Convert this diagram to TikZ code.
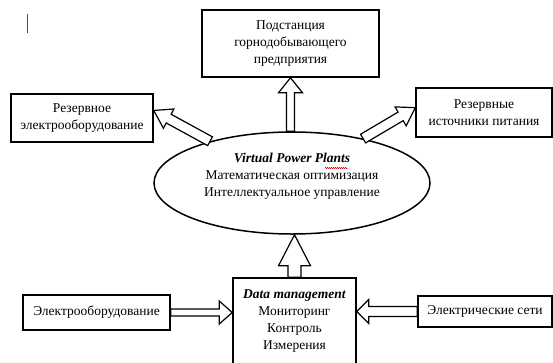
\documentclass[tikz,border=0pt]{standalone}
\usepackage{fontspec}
\setmainfont{Liberation Serif}
\usetikzlibrary{calc, shapes.geometric, decorations.pathmorphing}

% hollow block arrow: from, to, shaft half width, head half width, head length
\newcommand{\blockarrow}[5]{%
  \coordinate (ba-h) at ($(#2)!#5!(#1)$);
  \draw[blockline] ($(#1)!#3!90:(#2)$) -- ($(ba-h)!#3!90:(#2)$) -- ($(ba-h)!#4!90:(#2)$)
    -- (#2) -- ($(ba-h)!#4!-90:(#2)$) -- ($(ba-h)!#3!-90:(#2)$) -- ($(#1)!#3!-90:(#2)$) -- cycle;
}

\begin{document}
\begin{tikzpicture}[
            x = 1pt, y = -1pt, % pixel-like units, y downwards
            blockline/.style = {draw = black, line width = 1.2pt, fill = white, line join = miter},
            line width = 1.5pt
        ]

        \tikzstyle{box}=[
            draw = black,
            line width = 1.5pt,
            fill = white,
            align = center,
            inner sep = 0pt,
            font = \fontsize{13.5}{17}\selectfont
        ]

        \useasboundingbox (0,0) rectangle (553,362);

        % cursor mark
        \draw[line width = 0.8pt, black!70] (27,14) -- (27,33);

        \node[box, minimum width = 177pt, minimum height = 67pt] (sub) at (290.5,43.5)
            {Подстанция\\горнодобывающего\\предприятия};
        \node[box, minimum width = 142pt, minimum height = 48pt] (resequip) at (82,118)
            {Резервное\\электрооборудование};
        \node[box, minimum width = 136pt, minimum height = 49pt] (ressrc) at (484,112.5)
            {Резервные\\источники питания};
        \node[box, ellipse, minimum width = 276pt, minimum height = 102pt] (vpp) at (292,183) {};
        \node[align = center, font = \fontsize{13.5}{17}\selectfont] (vpptext) at (292,176)
            {\textbf{\textit{Virtual Power Plants}}\\Математическая оптимизация\\Интеллектуальное управление};
        \node[box, minimum width = 123pt, minimum height = 86pt] (dm) at (294.5,321)
            {\textbf{\textit{Data management}}\\Мониторинг\\Контроль\\Измерения};
        \node[box, minimum width = 147pt, minimum height = 35pt] (equip) at (96.5,312.5)
            {Электрооборудование};
        \node[box, minimum width = 134pt, minimum height = 31pt] (grid) at (485,311.5)
            {Электрические сети};

        % spelling mark under Plants
        \draw[red!80!black, line width = 0.5pt, decorate,
            decoration = {snake, amplitude = 0.6pt, segment length = 2pt}] (325,168) -- (348,168);

        \coordinate (vpptop) at (sub.south |- vpp.north);
        \coordinate (dmtip) at (dm.north |- vpp.south);
        \coordinate (eqtip) at (equip.east -| dm.west);
        \coordinate (grtip) at (grid.west -| dm.east);

        \blockarrow{vpptop}{sub.south}{4pt}{12pt}{15pt}
        \blockarrow{dm.north}{dmtip}{6.5pt}{16pt}{31pt}
        \blockarrow{vpp.153}{resequip.6}{5pt}{11pt}{17pt}
        \blockarrow{vpp.32}{ressrc.176}{5pt}{11pt}{17pt}
        \blockarrow{equip.east}{eqtip}{3.5pt}{11.5pt}{13pt}
        \blockarrow{grid.west}{grtip}{5pt}{12pt}{12pt}
     \end{tikzpicture}
\end{document}
